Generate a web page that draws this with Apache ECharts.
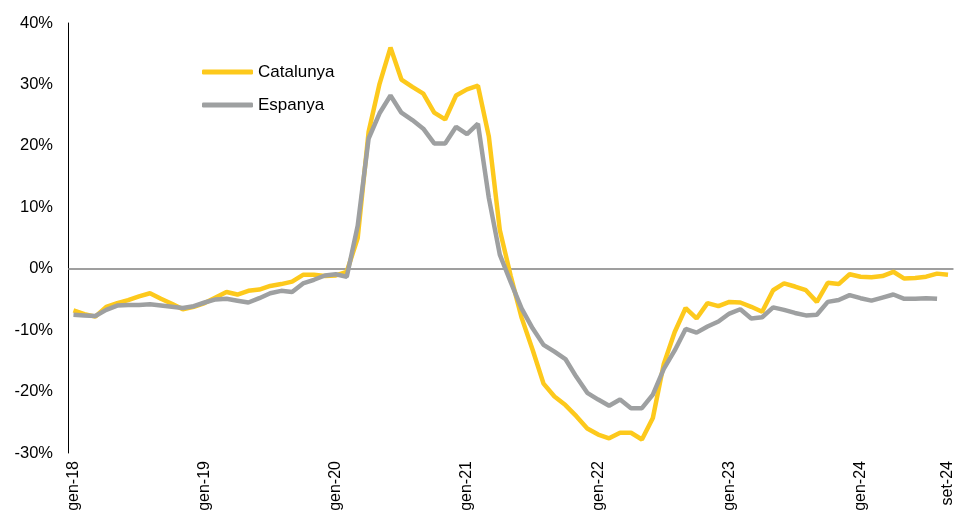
<!DOCTYPE html>
<html>
<head>
<meta charset="utf-8">
<script src="https://cdn.jsdelivr.net/npm/echarts@6/dist/echarts.min.js"></script>
<style>
html,body{margin:0;padding:0;background:#fff;}
#chart{width:956px;height:518px;}
</style>
</head>
<body>
<div id="chart"></div>
<script>
// Month abbreviations (Catalan) and years for category labels
var months = ['gen','feb','març','abr','maig','juny','jul','ag','set','oct','nov','des'];
var years = ['18','19','20','21','22','23','24'];
var lastMonthIndex = 8; // set-24

var categories = [];
years.forEach(function (y, yi) {
  months.forEach(function (m, mi) {
    if (yi === years.length - 1 && mi > lastMonthIndex) return;
    categories.push(m + '-' + y);
  });
});

var catalunya = [
  -6.8, -7.4, -7.8, -6.2, -5.6, -5.1, -4.5, -4.0, -4.9, -5.7, -6.6, -6.2,
  -5.6, -4.7, -3.8, -4.2, -3.6, -3.4, -2.8, -2.5, -2.1, -1.0, -1.0, -1.2,
  -1.1, -0.5, 5.0, 22.3, 30.1, 36.0, 30.8, 29.6, 28.5, 25.4, 24.3, 28.2,
  29.2, 29.8, 21.5, 6.3, -1.2, -8.0, -13.2, -18.7, -20.8, -22.2, -24.0, -26.0,
  -27.0, -27.6, -26.7, -26.7, -27.8, -24.3, -15.5, -10.3, -6.4, -8.1, -5.6, -6.1,
  -5.4, -5.5, -6.2, -7.0, -3.5, -2.4, -2.9, -3.5, -5.4, -2.3, -2.5, -0.9,
  -1.3, -1.4, -1.2, -0.5, -1.6, -1.5, -1.3, -0.8, -1.0
];

var espanya = [
  -7.5, -7.6, -7.7, -6.7, -6.0, -5.9, -5.9, -5.8, -6.0, -6.2, -6.4, -6.1,
  -5.5, -5.0, -4.9, -5.2, -5.5, -4.8, -4.0, -3.6, -3.8, -2.4, -1.8, -1.1,
  -0.9, -1.3, 7.0, 21.2, 25.3, 28.2, 25.4, 24.2, 22.8, 20.4, 20.4, 23.1,
  21.9, 23.6, 11.5, 2.3, -2.2, -6.5, -9.7, -12.4, -13.5, -14.7, -17.6, -20.2,
  -21.3, -22.3, -21.3, -22.7, -22.7, -20.5, -16.3, -13.3, -9.8, -10.4, -9.4, -8.6,
  -7.3, -6.6, -8.1, -7.9, -6.3, -6.7, -7.2, -7.6, -7.5, -5.4, -5.1, -4.3,
  -4.8, -5.2, -4.7, -4.2, -4.9, -4.9, -4.8, -4.9, null
];

var yMin = -30, yMax = 40, yStep = 10;

var chart = echarts.init(document.getElementById('chart'), null, {renderer: 'canvas'});
var font = 'Liberation Sans, Arial, sans-serif';

chart.setOption({
  animation: false,
  backgroundColor: '#ffffff',
  grid: {left: 68, right: 1, top: 23, bottom: 65, containLabel: false},
  legend: {
    orient: 'vertical',
    left: 197,
    top: 58,
    itemWidth: 51,
    itemHeight: 5,
    itemGap: 15,
    icon: 'roundRect',
    textStyle: {fontFamily: font, fontSize: 17, color: '#000', lineHeight: 18, padding: [0, 0, 0, 0]},
    data: ['Catalunya', 'Espanya']
  },
  xAxis: {
    type: 'category',
    data: categories,
    boundaryGap: true,
    axisLine: {show: false, onZero: false},
    axisTick: {show: false},
    axisLabel: {
      interval: function (index) { return index % 12 === 0 || index === categories.length - 1; },
      rotate: 90,
      margin: 8,
      fontFamily: font,
      fontSize: 16,
      color: '#000'
    },
    splitLine: {show: false}
  },
  yAxis: {
    type: 'value',
    min: yMin,
    max: yMax,
    interval: yStep,
    axisLine: {show: true, lineStyle: {color: '#000', width: 1}},
    axisTick: {show: false},
    splitLine: {show: false},
    axisLabel: {
      formatter: '{value}%',
      margin: 15,
      fontFamily: font,
      fontSize: 16.5,
      color: '#000'
    }
  },
  series: [
    {
      name: 'Catalunya',
      type: 'line',
      data: catalunya,
      showSymbol: false,
      symbol: 'none',
      lineStyle: {color: '#FDC91C', width: 4.5},
      itemStyle: {color: '#FDC91C'},
      z: 3,
      markLine: {
        silent: true,
        symbol: ['none', 'none'],
        label: {show: false},
        lineStyle: {color: '#7f7f7f', width: 1.5, type: 'solid'},
        data: [{yAxis: 0}],
        z: 1
      }
    },
    {
      name: 'Espanya',
      type: 'line',
      data: espanya,
      showSymbol: false,
      symbol: 'none',
      lineStyle: {color: '#9EA0A1', width: 4.5},
      itemStyle: {color: '#9EA0A1'},
      z: 4
    }
  ]
});
</script>
</body>
</html>
